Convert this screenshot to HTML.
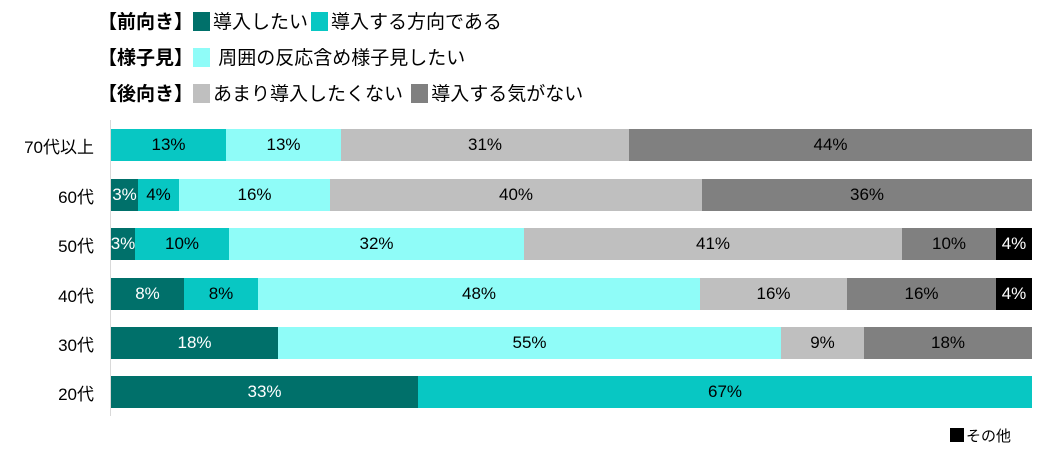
<!DOCTYPE html>
<html><head><meta charset="utf-8"><style>
body{margin:0;width:1044px;height:457px;background:#fff;font-family:"Liberation Sans","Noto Sans CJK JP",sans-serif;position:relative;overflow:hidden}
.a{position:absolute}
.lg{position:absolute;font-size:19px;color:#000;white-space:nowrap;line-height:22px}
.sq{display:inline-block;width:17px;height:19px;vertical-align:-3px;margin:0 3px}
.b{position:absolute;height:32px;display:flex;align-items:center;justify-content:center;font-size:17px;overflow:hidden;white-space:nowrap}
.yl{position:absolute;left:0;width:94px;text-align:right;font-size:17px}
</style></head><body>
<div class="lg" style="left:98px;top:12px"><b>【前向き】</b><span class="sq" style="background:#00706A;margin-left:0"></span>導入したい<span class="sq" style="background:#08C7C3"></span>導入する方向である</div>
<div class="lg" style="left:98px;top:48px"><b>【様子見】</b><span class="sq" style="background:#8FFCF8;margin-left:0"></span> 周囲の反応含め様子見したい</div>
<div class="lg" style="left:98px;top:84px"><b>【後向き】</b><span class="sq" style="background:#BFBFBF;margin-left:0"></span>あまり導入したくない <span class="sq" style="background:#808080"></span>導入する気がない</div>
<div class="a" style="left:110px;top:120px;width:1px;height:296px;background:#d9d9d9"></div>
<div id="c"></div>
<div class="lg" style="left:950px;top:426px;font-size:15px"><span style="display:inline-block;width:14px;height:14px;background:#000;vertical-align:-1px;margin-right:2px"></span>その他</div>
<script>
var C={d:"#00706A",t:"#08C7C3",c:"#8FFCF8",l:"#BFBFBF",g:"#808080",k:"#000"};
var W={d:"#fff",k:"#fff"};
var rows=[
["70代以上",129,[[111,226,"t","13%"],[226,341,"c","13%"],[341,629,"l","31%"],[629,1032,"g","44%"]]],
["60代",179,[[111,138,"d","3%"],[138,179,"t","4%"],[179,330,"c","16%"],[330,702,"l","40%"],[702,1032,"g","36%"]]],
["50代",228,[[111,135,"d","3%"],[135,229,"t","10%"],[229,524,"c","32%"],[524,902,"l","41%"],[902,996,"g","10%"],[996,1032,"k","4%"]]],
["40代",278,[[111,184,"d","8%"],[184,258,"t","8%"],[258,700,"c","48%"],[700,847,"l","16%"],[847,996,"g","16%"],[996,1032,"k","4%"]]],
["30代",327,[[111,278,"d","18%"],[278,781,"c","55%"],[781,864,"l","9%"],[864,1032,"g","18%"]]],
["20代",376,[[111,418,"d","33%"],[418,1032,"t","67%"]]]];
var h="";
rows.forEach(function(r){
h+='<div class="yl" style="top:'+(r[1]+4)+'px">'+r[0]+'</div>';
r[2].forEach(function(s){h+='<div class="b" style="left:'+s[0]+'px;top:'+r[1]+'px;width:'+(s[1]-s[0])+'px;background:'+C[s[2]]+';color:'+(W[s[2]]||"#000")+'">'+s[3]+'</div>';});
});
document.getElementById("c").innerHTML=h;
</script>
</body></html>
